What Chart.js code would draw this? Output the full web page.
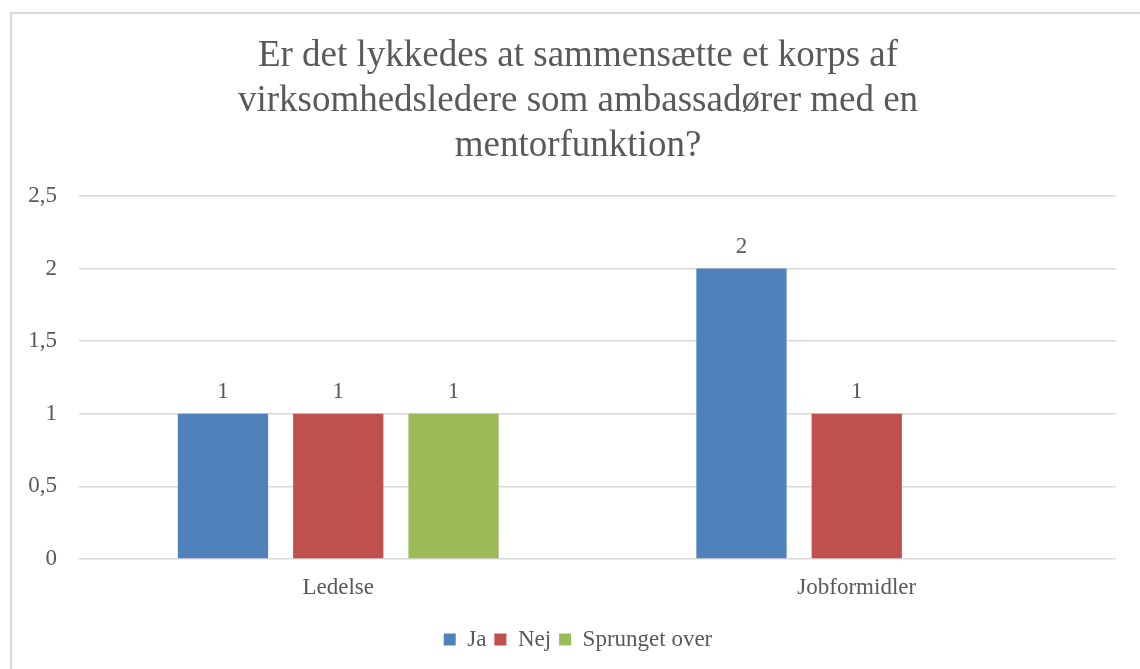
<!DOCTYPE html>
<html>
<head>
<meta charset="utf-8">
<script src="https://cdn.jsdelivr.net/npm/chart.js@4"></script>
<style>
  html, body { margin: 0; padding: 0; background: #fff; overflow: hidden; }
  #frame { position: absolute; left: 10px; top: 12px; width: 1160px; height: 700px; border: 2px solid #d9d9d9; box-sizing: border-box; }
  #wrap { position: absolute; left: 0; top: 0; width: 1140px; height: 669px; }
</style>
</head>
<body>
<div id="frame"></div>
<div id="wrap"><canvas id="c" width="1140" height="669"></canvas></div>
<script>
const titleLines = ["Er det lykkedes at sammensætte et korps af", "virksomhedsledere som ambassadører med en", "mentorfunktion?"];
const categories = ["Ledelse", "Jobformidler"];
const seriesNames = ["Ja", "Nej", "Sprunget over"];
const jaValues = [1, 2];
const nejValues = [1, 1];
const sprungetValues = [1, null];
const yTicks = [0, 0.5, 1, 1.5, 2, 2.5];

const FONT = "'Liberation Serif', 'Times New Roman', serif";
const TEXT = '#595959';
const FS = 23;

const dataLabels = {
  id: 'dataLabels',
  afterDatasetsDraw(chart) {
    const ctx = chart.ctx;
    ctx.save();
    ctx.font = FS + 'px ' + FONT;
    ctx.fillStyle = TEXT;
    ctx.textAlign = 'center';
    ctx.textBaseline = 'bottom';
    chart.data.datasets.forEach((ds, i) => {
      const meta = chart.getDatasetMeta(i);
      meta.data.forEach((bar, j) => {
        const v = ds.data[j];
        if (v === null || v === undefined) return;
        ctx.fillText(String(v).replace('.', ','), bar.x, bar.y - 10);
      });
    });
    ctx.restore();
  }
};

new Chart(document.getElementById('c'), {
  type: 'bar',
  data: {
    labels: categories,
    datasets: [
      { label: seriesNames[0], data: jaValues, backgroundColor: '#4f81bd' },
      { label: seriesNames[1], data: nejValues, backgroundColor: '#c0504d' },
      { label: seriesNames[2], data: sprungetValues, backgroundColor: '#9bbb59' }
    ]
  },
  options: {
    responsive: false,
    animation: false,
    devicePixelRatio: 1,
    categoryPercentage: 0.667,
    barPercentage: 0.783,
    layout: { padding: { left: 16, right: 0, top: 34, bottom: 8 } },
    plugins: {
      title: {
        display: true,
        text: titleLines,
        color: TEXT,
        font: { family: FONT, size: 37, weight: 'normal', lineHeight: 1.216 },
        padding: { top: 0, bottom: 27 }
      },
      legend: {
        position: 'bottom',
        labels: {
          color: TEXT,
          font: { family: FONT, size: FS },
          boxWidth: 12,
          boxHeight: 12,
          padding: 8
        }
      },
      tooltip: { enabled: false }
    },
    scales: {
      x: {
        afterFit(scale) { scale.height = 61; },
        grid: { display: false, drawTicks: false },
        border: { display: false },
        ticks: { color: TEXT, font: { family: FONT, size: FS }, padding: 15 }
      },
      y: {
        min: 0,
        max: 2.5,
        afterBuildTicks(scale) { scale.ticks = yTicks.map(v => ({ value: v })); },
        afterFit(scale) { scale.width = 63; },
        grid: { color: '#d9d9d9', lineWidth: 1.5, drawTicks: false },
        border: { display: false },
        ticks: {
          color: TEXT,
          font: { family: FONT, size: FS },
          padding: 22,
          callback: v => String(v).replace('.', ',')
        }
      },
      yRight: {
        position: 'right',
        afterFit(scale) { scale.width = 24; },
        grid: { display: false, drawTicks: false },
        border: { display: false },
        ticks: { display: false }
      }
    }
  },
  plugins: [dataLabels]
});
</script>
</body>
</html>
